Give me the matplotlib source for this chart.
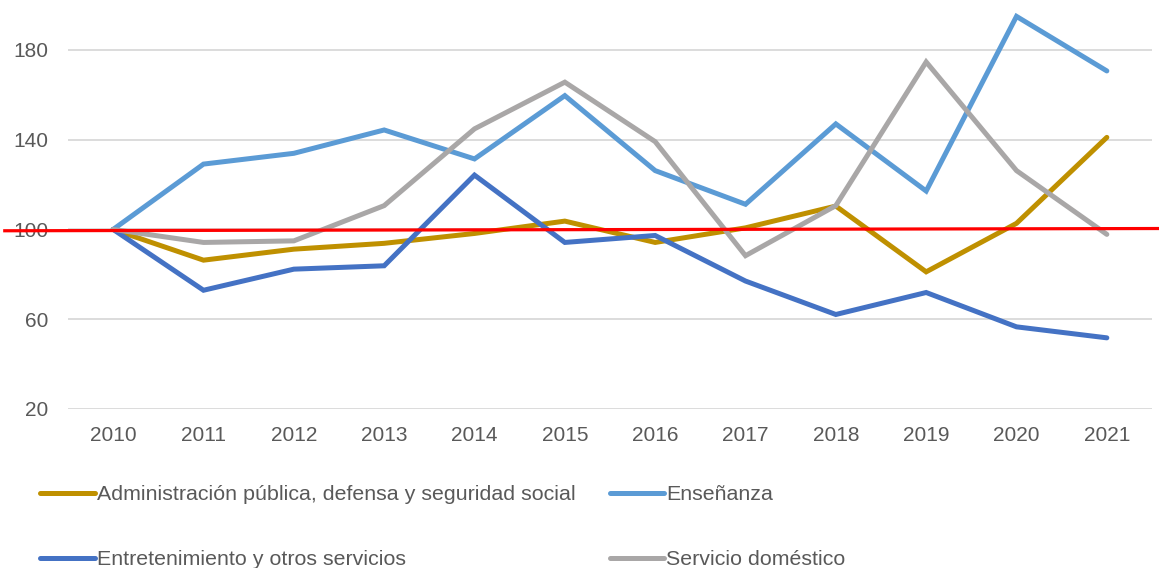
import matplotlib
matplotlib.use("Agg")
import matplotlib.pyplot as plt

years = [2010, 2011, 2012, 2013, 2014, 2015, 2016, 2017, 2018, 2019, 2020, 2021]
year_labels = [str(y) for y in years]

admin = [100, 86.3, 91.2, 93.8, 98.2, 103.7, 94.2, 100.7, 110.4, 81.1, 102.7, 141.0]
ensenanza = [100, 129.1, 133.9, 144.3, 131.4, 159.6, 126.2, 111.2, 147.0, 117.1, 194.9, 170.6]
entretenimiento = [100, 72.9, 82.3, 83.8, 124.2, 94.2, 97.3, 77.0, 62.1, 71.9, 56.6, 51.7]
domestico = [100, 94.2, 94.9, 110.6, 144.8, 165.6, 139.1, 88.3, 110.6, 174.6, 126.2, 97.8]

series_names = ["Administración pública, defensa y seguridad social", "Enseñanza",
                "Entretenimiento y otros servicios", "Servicio doméstico"]
series_colors = ["#BF9000", "#5B9BD5", "#4472C4", "#A9A7A7"]

# reference line (hand-drawn red line around 100)
ref_x = [2008.8, 2021.58]
ref_y = [99.4, 100.4]

yticks = [20, 60, 100, 140, 180]

plt.rcParams['font.family'] = ['Liberation Sans', 'DejaVu Sans']

fig = plt.figure(figsize=(11.59, 5.68), dpi=100)
ax = fig.add_axes([68/1159, (568-409)/568, (1152-68)/1159, 409/568])

lines = []
for vals, name, col in zip([admin, ensenanza, entretenimiento, domestico], series_names, series_colors):
    ln, = ax.plot(years, vals, color=col, lw=3.6, label=name, solid_capstyle='round', solid_joinstyle='miter')
    lines.append(ln)

ax.plot(ref_x, ref_y, color="#FF0000", lw=2.3, clip_on=False, zorder=5)

ax.set_xlim(2009.5, 2021.5)
ax.set_ylim(20, 202.2)
ax.set_yticks(yticks)
ax.set_yticklabels([str(t) for t in yticks])
ax.set_xticks(years)
ax.set_xticklabels(year_labels)
ax.yaxis.grid(True, color="#D9D9D9", lw=1.3)
ax.set_axisbelow(True)
for s in ax.spines.values():
    s.set_visible(False)
ax.tick_params(axis='both', length=0, labelsize=15, labelcolor="#595959")
ax.tick_params(axis='x', pad=12)
ax.tick_params(axis='y', pad=14)

# row-wise legend order (matplotlib fills columns first)
order = [0, 2, 1, 3]
handles = [lines[i] for i in order]
labels = [series_names[i] for i in order]
leg = fig.legend(handles, labels, loc='center left', bbox_to_anchor=(40/1159, (568-527)/568),
                 ncol=2, frameon=False, fontsize=15.4, handlelength=2.55, handletextpad=0.1,
                 columnspacing=1.6, labelspacing=2.15, borderpad=0, borderaxespad=0)
for t in leg.get_texts():
    t.set_color("#595959")

fig.savefig("out.png", dpi=100)
